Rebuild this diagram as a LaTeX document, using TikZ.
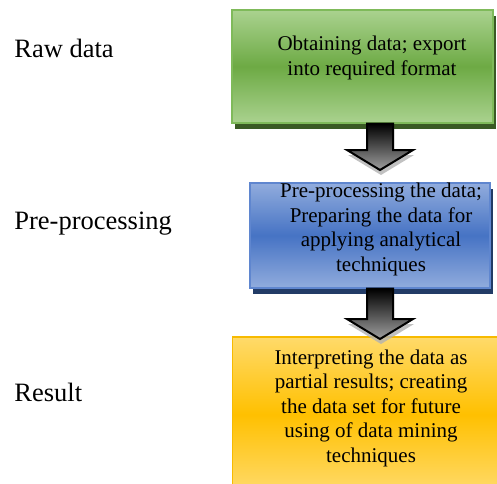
\documentclass[tikz,border=0pt]{standalone}
\usepackage{fontspec}
\setmainfont{Liberation Serif}
\usetikzlibrary{calc,shadows}
\definecolor{grnlight}{HTML}{AAD28F}
\definecolor{grnmid}{HTML}{6DAA44}
\definecolor{grnline}{HTML}{7FBA5A}
\definecolor{grndark}{HTML}{3A5A24}
\definecolor{bluelight}{HTML}{91ACDD}
\definecolor{bluemid}{HTML}{4673C4}
\definecolor{blueline}{HTML}{5F86CF}
\definecolor{bluedark}{HTML}{223B66}
\definecolor{yellight}{HTML}{FFDA6A}
\definecolor{yelmid}{HTML}{FFC000}
\definecolor{yelline}{HTML}{F7BA00}
\definecolor{yeldark}{HTML}{BF9000}
\newcommand\flowarrow[2]{% upper box, tip
\draw[arrowbody] ($(#1.south -| #2)+(-13,0)$) -- ($(#2)+(-13,-20)$)
  -- ($(#2)+(-33,-20)$) -- (#2) -- ($(#2)+(33,-20)$)
  -- ($(#2)+(13,-20)$) -- ($(#1.south -| #2)+(13,0)$) -- cycle;}

\begin{document}
\begin{tikzpicture}[x=0.5pt,y=-0.5pt,
    steplabel/.style={inner sep=0pt,anchor=base west,font=\fontsize{13.25}{15}\selectfont},
    boxtext/.style={inner sep=0pt,align=center,font=\fontsize{10.5}{12.25}\selectfont},
    flowbox/.style={rectangle,line width=0.7pt},
    arrowbody/.style={draw=black,line width=1pt,top color=black,bottom color=gray!75,
      drop shadow={shadow xshift=0.5pt,shadow yshift=-2.5pt,fill=gray!60,opacity=0.8}}]
      \useasboundingbox (0,0) rectangle (497,483);

      \node[flowbox,minimum width=130.5pt,minimum height=56.5pt,draw=grnline,
        top color=grnlight,bottom color=grnlight,middle color=grnmid,
        drop shadow={shadow xshift=1.5pt,shadow yshift=-3pt,fill=grndark,opacity=1}]
        (obtain) at (362.5,66.5) {};
      \node[flowbox,minimum width=120pt,minimum height=52.5pt,draw=blueline,
        top color=bluelight,bottom color=bluelight,middle color=bluemid,
        drop shadow={shadow xshift=1.5pt,shadow yshift=-3pt,fill=bluedark,opacity=1}]
        (prep) at (370,235.5) {};
      \node[flowbox,minimum width=139pt,minimum height=77.5pt,draw=yelline,
        top color=yellight,bottom color=yellight,middle color=yelmid,
        drop shadow={shadow xshift=1.5pt,shadow yshift=-3pt,fill=yeldark,opacity=1}]
        (result) at (371.5,414.5) {};

      \node[boxtext] (obtaintext) at (372,58) {Obtaining data; export\\into required format};
      \node[boxtext] (preptext) at (381,229.5) {Pre-processing the data;\\Preparing the data for\\applying analytical\\techniques};
      \node[boxtext] (resulttext) at (371,408) {Interpreting the data as\\partial results; creating\\the data set for future\\using of data mining\\techniques};

      \node[steplabel] (rawlbl) at (14,57.3) {Raw data};
      \node[steplabel] (preplbl) at (14,229.3) {Pre-processing};
      \node[steplabel] (resultlbl) at (14,401) {Result};

      \coordinate (tipa) at (380,170);
      \coordinate (tipb) at (380,339);
      \flowarrow{obtain}{tipa}
      \flowarrow{prep}{tipb}
    \end{tikzpicture}
\end{document}
